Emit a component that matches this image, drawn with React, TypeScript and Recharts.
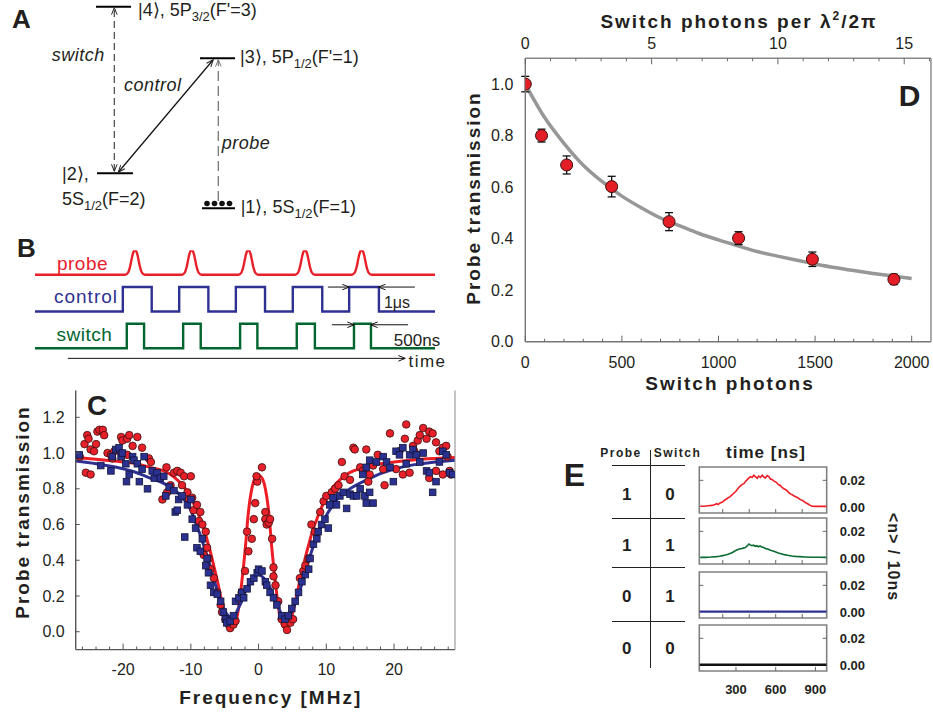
import React from 'react';
import {
  ComposedChart,
  LineChart,
  Line,
  Scatter,
  XAxis,
  YAxis,
  ReferenceLine,
  ReferenceArea,
  ErrorBar,
} from 'recharts';

const FONT = '"Liberation Sans", Arial, Helvetica, sans-serif';
const INK = '#231f20';
const RED = '#e8202a';
const BLUE = '#2e3192';
const GREEN = '#00652e';
// axes must have a size > 0 to be drawn; keep it tiny so margins stay exact
const AX = 0.01;

// ---------- panel A: level scheme (diagram units = px) ----------
const levelLines = [
  { x1: 96, x2: 131, y: 6.7 },
  { x1: 200, x2: 235, y: 58.3 },
  { x1: 97, x2: 133, y: 173.3 },
  { x1: 202, x2: 235, y: 208.3 },
];
const atomDots = [
  { x: 207, y: 203.5 },
  { x: 214.5, y: 203.5 },
  { x: 222, y: 203.5 },
  { x: 229.5, y: 203.5 },
];

// ---------- panel B: pulse sequence (time in µs) ----------
const probeCenters = [3.53, 5.53, 7.53, 9.53, 11.53];
const pulseShape = [
  [-0.35, 0], [-0.25, 0.08], [-0.17, 0.35], [-0.1, 0.75], [-0.05, 0.95], [0, 1],
  [0.05, 0.95], [0.1, 0.75], [0.17, 0.35], [0.25, 0.08], [0.35, 0],
];
const controlOn = [3.1, 5.09, 7.09, 9.1, 11.09];
const controlOff = [4.12, 6.12, 8.12, 10.14, 12.14];
const switchOn = [3.24, 5.23, 7.24, 9.24, 11.26];
const switchOff = [3.85, 5.85, 7.85, 9.88, 11.86];
const tEnd = 14.12;

// ---------- panel C: transmission spectra ----------
const cRedPoints = [
  [-26.4, 0.98], [-25.7, 1.05], [-25.3, 1.1], [-25.1, 1.08], [-24.8, 1.02], [-25.5, 0.89], [-24.8, 0.88],
  [-24.0, 1.05], [-23.8, 1.12], [-23.5, 1.13], [-23.0, 1.13], [-22.8, 1.1], [-24.3, 1.01], [-22.3, 1.0],
  [-21.8, 0.99], [-21.3, 1.01], [-20.3, 1.09], [-20.1, 1.07], [-19.4, 1.08], [-19.1, 1.1], [-18.6, 1.04],
  [-17.9, 1.09], [-17.2, 1.03], [-16.2, 0.97], [-15.9, 0.95], [-19.4, 0.99], [-21.6, 0.97], [-13.6, 0.92],
  [-12.5, 0.89], [-12.0, 0.9], [-11.5, 0.89], [-11.0, 0.87], [-10.0, 0.87], [-14.2, 0.74], [-13.5, 0.78],
  [-13.0, 0.82], [-11.3, 0.82], [-10.5, 0.78], [-10.3, 0.74], [-9.8, 0.75], [-9.6, 0.68], [-9.1, 0.71],
  [-8.6, 0.67], [-8.8, 0.62], [-8.3, 0.6], [-7.8, 0.56], [-7.6, 0.47], [-7.4, 0.41], [-8.1, 0.43],
  [-7.1, 0.35], [-6.6, 0.3], [-6.1, 0.22], [-5.6, 0.15], [-5.4, 0.11], [-4.9, 0.07], [-4.4, 0.04],
  [-4.2, 0.02], [-3.7, 0.04], [-3.4, 0.06], [-2.5, 0.22], [-2.0, 0.34], [-1.5, 0.45], [-1.0, 0.52],
  [-1.7, 0.56], [-0.7, 0.63], [-0.5, 0.72], [-0.2, 0.84], [-0.3, 0.87], [0.5, 0.92], [1.0, 0.67],
  [1.0, 0.63], [1.2, 0.6], [1.5, 0.61], [1.7, 0.63], [2.0, 0.52], [2.2, 0.36], [2.2, 0.31], [2.5, 0.26],
  [2.9, 0.17], [3.4, 0.07], [3.9, 0.04], [4.2, 0.01], [4.7, 0.05], [5.1, 0.07], [6.1, 0.3], [6.6, 0.34],
  [6.9, 0.37], [7.4, 0.41], [7.8, 0.6], [8.3, 0.56], [9.1, 0.67], [9.6, 0.73], [10.0, 0.76], [10.8, 0.78],
  [11.3, 0.8], [11.8, 0.82], [12.3, 0.95], [12.7, 0.87], [13.5, 0.85], [14.0, 1.03], [14.2, 1.02],
  [15.0, 0.92], [15.4, 0.9], [15.9, 1.02], [16.2, 0.84], [16.4, 0.88], [16.9, 0.93], [17.6, 0.99],
  [18.4, 0.91], [18.6, 0.82], [19.4, 1.11], [20.3, 0.91], [20.8, 1.01], [21.3, 0.88], [21.6, 1.08],
  [21.8, 1.16], [22.3, 0.89], [22.8, 1.04], [23.0, 1.01], [23.5, 1.07], [23.8, 1.1], [24.3, 1.14],
  [24.8, 1.08], [25.2, 1.12], [25.7, 1.11], [26.2, 1.06], [26.7, 1.01], [27.2, 1.03], [27.7, 1.04],
  [27.9, 0.98], [28.2, 0.9], [28.4, 0.88], [27.2, 0.88], [26.2, 0.9], [25.2, 0.86],
];
const cBluePoints = [
  [-26.5, 0.99], [-23.3, 0.93], [-21.8, 0.9], [-21.6, 0.98], [-21.1, 1.02], [-20.6, 1.03], [-20.3, 0.98],
  [-20.1, 1.0], [-19.6, 0.94], [-19.5, 0.84], [-19.1, 0.88], [-18.6, 0.98], [-18.4, 0.96], [-17.9, 0.94],
  [-17.6, 0.84], [-17.2, 0.91], [-16.9, 0.98], [-16.4, 0.8], [-15.7, 0.9], [-15.4, 0.86], [-15.0, 0.89],
  [-14.5, 0.86], [-14.0, 0.87], [-13.7, 0.76], [-13.2, 0.81], [-12.5, 0.79], [-12.3, 0.67], [-12.0, 0.68],
  [-11.8, 0.74], [-11.3, 0.76], [-10.9, 0.53], [-10.5, 0.71], [-10.0, 0.74], [-9.8, 0.63], [-9.3, 0.58],
  [-9.1, 0.47], [-8.6, 0.45], [-8.3, 0.52], [-7.8, 0.37], [-7.6, 0.41], [-7.4, 0.33], [-7.1, 0.26],
  [-6.6, 0.22], [-6.1, 0.21], [-5.6, 0.17], [-5.2, 0.11], [-4.9, 0.07], [-4.7, 0.05], [-4.2, 0.06],
  [-3.7, 0.09], [-3.4, 0.17], [-2.9, 0.19], [-2.5, 0.22], [-2.2, 0.19], [-1.7, 0.24], [-1.2, 0.28],
  [-0.7, 0.3], [-0.2, 0.33], [0.0, 0.35], [0.5, 0.34], [1.0, 0.28], [1.2, 0.26], [1.7, 0.22], [2.2, 0.19],
  [2.7, 0.15], [3.4, 0.09], [3.9, 0.07], [4.4, 0.09], [4.9, 0.13], [5.4, 0.17], [5.9, 0.22], [6.4, 0.28],
  [6.9, 0.32], [7.4, 0.35], [7.6, 0.41], [8.1, 0.49], [8.6, 0.52], [8.8, 0.56], [9.3, 0.6], [9.8, 0.63],
  [10.3, 0.58], [10.5, 0.71], [11.0, 0.75], [11.5, 0.71], [12.0, 0.76], [12.5, 0.78], [13.0, 0.69],
  [13.5, 0.77], [14.0, 0.76], [14.5, 0.76], [15.0, 0.8], [15.7, 0.76], [15.9, 0.72], [16.4, 0.78],
  [16.9, 0.72], [15.4, 0.88], [15.9, 0.92], [16.4, 0.96], [17.4, 0.95], [18.4, 0.98], [18.9, 0.95],
  [19.4, 0.92], [19.9, 0.84], [20.3, 1.01], [20.8, 0.99], [21.3, 1.03], [21.8, 0.94], [22.3, 0.99],
  [22.8, 1.02], [23.3, 0.99], [23.8, 0.95], [24.3, 1.0], [24.8, 0.9], [25.2, 0.89], [25.7, 0.78],
  [26.2, 0.84], [26.7, 0.95], [27.2, 1.01], [27.7, 0.99], [28.2, 0.89], [28.7, 0.88],
];
const cRedFit = [
  [-27, 0.975], [-24, 0.965], [-20, 0.95], [-18, 0.94], [-16, 0.92], [-14, 0.9], [-13, 0.88], [-12, 0.85],
  [-11, 0.81], [-10, 0.75], [-9, 0.67], [-8.5, 0.62], [-8, 0.57], [-7.5, 0.5], [-7, 0.43], [-6.5, 0.35],
  [-6, 0.27], [-5.5, 0.18], [-5, 0.1], [-4.5, 0.045], [-4, 0.02], [-3.5, 0.04], [-3, 0.12], [-2.5, 0.27],
  [-2, 0.45], [-1.5, 0.67], [-1, 0.8], [-0.5, 0.86], [0, 0.875], [0.5, 0.86], [1, 0.8], [1.5, 0.67],
  [2, 0.45], [2.5, 0.27], [3, 0.12], [3.5, 0.04], [4, 0.02], [4.5, 0.045], [5, 0.1], [5.5, 0.18],
  [6, 0.27], [6.5, 0.35], [7, 0.43], [7.5, 0.5], [8, 0.57], [8.5, 0.62], [9, 0.67], [10, 0.75],
  [11, 0.81], [12, 0.85], [13, 0.88], [14, 0.9], [16, 0.92], [18, 0.94], [20, 0.95], [24, 0.965], [29, 0.975],
];
const cBlueFit = [
  [-27, 0.955], [-24, 0.94], [-21, 0.92], [-18.4, 0.895], [-16, 0.86], [-14, 0.83], [-12, 0.78], [-11, 0.74],
  [-10, 0.68], [-9.5, 0.63], [-9, 0.58], [-8.5, 0.53], [-8, 0.47], [-7.5, 0.41], [-7, 0.35], [-6.5, 0.28],
  [-6, 0.22], [-5.5, 0.17], [-5, 0.12], [-4.5, 0.09], [-4, 0.08], [-3.5, 0.09], [-3, 0.13], [-2.5, 0.17],
  [-2, 0.22], [-1.5, 0.26], [-1, 0.29], [-0.5, 0.31], [0, 0.32], [0.5, 0.31], [1, 0.29], [1.5, 0.26],
  [2, 0.22], [2.5, 0.17], [3, 0.13], [3.5, 0.09], [4, 0.08], [4.5, 0.09], [5, 0.12], [5.5, 0.17],
  [6, 0.22], [6.5, 0.28], [7, 0.35], [7.5, 0.41], [8, 0.47], [8.5, 0.52], [9, 0.57], [9.5, 0.61],
  [10, 0.65], [11, 0.71], [12, 0.76], [13.5, 0.8], [16, 0.85], [18.4, 0.89], [21, 0.92], [24, 0.94], [29, 0.96],
];
const cXTicks = [-20, -10, 0, 10, 20];
const cXMinor = [-26, -24, -22, -20, -18, -16, -14, -12, -10, -8, -6, -4, -2, 0, 2, 4, 6, 8, 10, 12, 14, 16, 18, 20, 22, 24, 26, 28];
const cYTicks = [0, 0.2, 0.4, 0.6, 0.8, 1.0, 1.2];

// ---------- panel D: transmission vs switch photons ----------
const dPhotons = [0, 84, 214, 447, 744, 1104, 1486, 1908];
const dTrans = [1.0, 0.8, 0.686, 0.602, 0.466, 0.402, 0.32, 0.242];
const dErr = [0.03, 0.025, 0.035, 0.04, 0.035, 0.025, 0.028, 0.02];
const dFitX = [0, 100, 200, 300, 400, 500, 600, 700, 800, 900, 1000, 1100, 1200, 1300, 1400, 1500, 1600, 1700, 1800, 1900, 2000];
const dFitY = [1.0, 0.87, 0.77, 0.685, 0.62, 0.565, 0.52, 0.48, 0.45, 0.42, 0.395, 0.372, 0.35, 0.333, 0.317, 0.302, 0.288, 0.276, 0.265, 0.255, 0.245];
const dXTicks = [0, 500, 1000, 1500, 2000];
const dXMinor = [0, 100, 200, 300, 400, 500, 600, 700, 800, 900, 1000, 1100, 1200, 1300, 1400, 1500, 1600, 1700, 1800, 1900, 2000];
const dTopTicks = [0, 5, 10, 15];
const dTopMinor = [0, 1, 2, 3, 4, 5, 6, 7, 8, 9, 10, 11, 12, 13, 14, 15, 16];
const dTopSpan = [0, 16.06];
const dYTicks = [0, 0.2, 0.4, 0.6, 0.8, 1.0];

// ---------- panel E: photon traces ----------
const eRed = [
  [30, 0.0005], [60, 0.0006], [90, 0.0009], [120, 0.0012], [140, 0.0018], [155, 0.0025], [165, 0.0018],
  [180, 0.003], [195, 0.0035], [210, 0.0048], [225, 0.0058], [240, 0.0068], [255, 0.0078], [270, 0.009],
  [285, 0.0105], [300, 0.0118], [315, 0.0138], [330, 0.0155], [345, 0.0168], [360, 0.0175], [372, 0.0192],
  [385, 0.0205], [398, 0.0218], [410, 0.0228], [422, 0.0222], [435, 0.0238], [448, 0.0226], [460, 0.0215],
  [472, 0.0232], [485, 0.0222], [498, 0.0238], [510, 0.0225], [522, 0.0218], [535, 0.0236], [548, 0.0228],
  [560, 0.021], [575, 0.0205], [590, 0.0192], [605, 0.0185], [620, 0.0168], [635, 0.0162], [650, 0.0145],
  [665, 0.0135], [680, 0.0128], [695, 0.0112], [710, 0.0098], [725, 0.0092], [740, 0.0082], [755, 0.0075],
  [770, 0.0068], [785, 0.0055], [800, 0.005], [815, 0.004], [830, 0.003], [845, 0.0022], [860, 0.0012],
  [875, 0.0006], [900, 0.0005], [930, 0.0005], [960, 0.0005], [985, 0.0005],
];
const eGreen = [
  [30, 0.0005], [70, 0.0005], [110, 0.0007], [150, 0.001], [175, 0.0013], [200, 0.0018], [220, 0.0022],
  [240, 0.0028], [260, 0.0035], [280, 0.0045], [295, 0.0055], [310, 0.0062], [325, 0.0068], [340, 0.007],
  [355, 0.0074], [370, 0.0078], [385, 0.009], [398, 0.0105], [408, 0.0098], [420, 0.0092], [432, 0.0096],
  [445, 0.0088], [458, 0.0092], [470, 0.0084], [482, 0.009], [495, 0.0082], [510, 0.0078], [525, 0.007],
  [540, 0.0068], [560, 0.0058], [580, 0.0052], [600, 0.0045], [620, 0.0038], [640, 0.0032], [665, 0.0025],
  [690, 0.002], [720, 0.0015], [750, 0.0012], [780, 0.001], [820, 0.0008], [870, 0.0006], [930, 0.0005], [985, 0.0005],
];
const eBlue = [[25, 0.0003], [300, 0.0003], [600, 0.0003], [985, 0.0003]];
const eBlack = [[25, 0.0002], [300, 0.0002], [600, 0.0002], [985, 0.0002]];
const eProbeBits = [1, 1, 0, 0];
const eSwitchBits = [0, 1, 1, 0];
const eYTicks = [0, 0.02];
const eXTicksUpper = [200, 400, 600, 800];
const eXTicksLower = [300, 600, 900];

const pts = (arr: number[][]) => arr.map(([x, y]) => ({ x, y }));

// tick renderer: label outside (optional), tick mark pointing into the plot
type TickCfg = {
  side: 'bottom' | 'top' | 'left' | 'right';
  margin: number;
  labels: number[];
  major?: number[];
  majorLen?: number;
  minorLen?: number;
  fmt?: (v: number) => string;
  size?: number;
  bold?: boolean;
  stroke?: string;
  mirrorAt?: number;
};
const makeTick = (c: TickCfg) => (p: any) => {
  const v = p.payload.value as number;
  const isMajor = (c.major ?? c.labels).some((m) => Math.abs(m - v) < 1e-9);
  const len = isMajor ? c.majorLen ?? 5 : c.minorLen ?? 3;
  const label = c.labels.some((m) => Math.abs(m - v) < 1e-9);
  const txt = c.fmt ? c.fmt(v) : String(v);
  const st = { stroke: c.stroke ?? '#555', strokeWidth: 1 };
  const font = { fontSize: c.size ?? 16, fontWeight: c.bold ? 700 : 400, fill: INK, fontFamily: FONT };
  if (c.side === 'bottom') {
    const ay = p.y - c.margin;
    return (
      <g>
        {len > 0 && <line x1={p.x} x2={p.x} y1={ay} y2={ay - len} {...st} />}
        {label && <text x={p.x} y={p.y} dy="0.71em" textAnchor="middle" {...font}>{txt}</text>}
      </g>
    );
  }
  if (c.side === 'top') {
    const ay = p.y + c.margin;
    return (
      <g>
        {len > 0 && <line x1={p.x} x2={p.x} y1={ay} y2={ay + len} {...st} />}
        {label && <text x={p.x} y={p.y} textAnchor="middle" {...font}>{txt}</text>}
      </g>
    );
  }
  if (c.side === 'left') {
    const ax = p.x + c.margin;
    return (
      <g>
        {len > 0 && <line x1={ax} x2={ax + len} y1={p.y} y2={p.y} {...st} />}
        {label && <text x={p.x} y={p.y} dy="0.355em" textAnchor="end" {...font}>{txt}</text>}
      </g>
    );
  }
  const ax = p.x - c.margin;
  return (
    <g>
      {len > 0 && <line x1={ax} x2={ax - len} y1={p.y} y2={p.y} {...st} />}
      {len > 0 && c.mirrorAt !== undefined && (
        <line x1={ax - c.mirrorAt} x2={ax - c.mirrorAt + len} y1={p.y} y2={p.y} {...st} />
      )}
      {label && <text x={p.x} y={p.y} dy="0.355em" textAnchor="start" {...font}>{txt}</text>}
    </g>
  );
};

type TProps = {
  x: number; y: number; size: number; color?: string; bold?: boolean; italic?: boolean;
  middle?: boolean; spacing?: number; rotate?: number; children: React.ReactNode;
};
const T = ({ x, y, size, color = INK, bold, italic, middle, spacing = 0, rotate = 0, children }: TProps) => (
  <div
    style={{
      position: 'absolute', left: x, top: y, fontSize: size, lineHeight: 1, color,
      fontWeight: bold ? 700 : 400, fontStyle: italic ? 'italic' : 'normal', letterSpacing: spacing,
      whiteSpace: 'nowrap',
      transform: `translate(${middle ? '-50%' : '0'}, -50%)${rotate ? ` rotate(${rotate}deg)` : ''}`,
    }}
  >
    {children}
  </div>
);
const Sub = ({ children }: { children: React.ReactNode }) => (
  <span style={{ fontSize: 13, verticalAlign: -5 }}>{children}</span>
);

const Arrow = ({ id, color = INK }: { id: string; color?: string }) => (
  <defs>
    <marker id={id} viewBox="0 0 10 10" refX="9.5" refY="5" markerWidth="9" markerHeight="7"
      markerUnits="userSpaceOnUse" orient="auto-start-reverse">
      <path d="M0,1 L10,5 L0,9" fill="none" stroke={color} strokeWidth={1.4} />
    </marker>
  </defs>
);

const PanelA = () => (
  <div style={{ position: 'absolute', left: 0, top: 0 }}>
    <ComposedChart width={470} height={230} margin={{ top: 0, right: 0, bottom: 0, left: 0 }}>
      <Arrow id="arrA" />
      <Arrow id="arrAp" color="#777" />
      <XAxis type="number" dataKey="x" domain={[0, 470]} hide allowDataOverflow />
      <YAxis type="number" dataKey="y" domain={[0, 230]} reversed hide allowDataOverflow />
      {levelLines.map((l, i) => (
        <ReferenceLine key={i} segment={[{ x: l.x1, y: l.y }, { x: l.x2, y: l.y }]} stroke="#000" strokeWidth={2} />
      ))}
      <ReferenceLine segment={[{ x: 114.3, y: 171 }, { x: 114.3, y: 8 }]} stroke="#444" strokeWidth={1.2}
        strokeDasharray="7 4" markerStart="url(#arrA)" markerEnd="url(#arrA)" />
      <ReferenceLine segment={[{ x: 118.5, y: 172 }, { x: 213, y: 60 }]} stroke="#111" strokeWidth={1.2}
        markerStart="url(#arrA)" markerEnd="url(#arrA)" />
      <ReferenceLine segment={[{ x: 218.3, y: 201 }, { x: 218.3, y: 60 }]} stroke="#777" strokeWidth={1.3}
        strokeDasharray="10 5" markerEnd="url(#arrAp)" />
      <Scatter data={atomDots} isAnimationActive={false}
        shape={(p: any) => <circle cx={p.cx} cy={p.cy} r={2.8} fill="#111" />} />
    </ComposedChart>
  </div>
);

const probeData = [
  { t: 0, v: 0 },
  ...probeCenters.flatMap((c) => pulseShape.map(([d, h]) => ({ t: c + d, v: h }))),
  { t: tEnd, v: 0 },
];
const squareData = (on: number[], off: number[]) => [
  { t: 0, v: 0 },
  ...on.flatMap((t, i) => [{ t, v: 1 }, { t: off[i], v: 0 }]),
  { t: tEnd, v: 0 },
];

const PanelB = () => (
  <div style={{ position: 'absolute', left: 0, top: 230 }}>
    <LineChart width={470} height={150} margin={{ top: 20.3, right: 35, bottom: 17, left: 35 }}>
      <Arrow id="arrB" color="#111" />
      <XAxis type="number" dataKey="t" domain={[0, tEnd]} hide allowDataOverflow />
      <YAxis yAxisId="p" type="number" domain={[-3.6, 1]} hide allowDataOverflow />
      <YAxis yAxisId="c" type="number" domain={[-2.1, 2.5]} hide allowDataOverflow />
      <YAxis yAxisId="s" type="number" domain={[-0.6, 4]} hide allowDataOverflow />
      <Line yAxisId="p" data={probeData} dataKey="v" type="monotone" stroke={RED} strokeWidth={2.4} dot={false} isAnimationActive={false} />
      <Line yAxisId="c" data={squareData(controlOn, controlOff)} dataKey="v" type="stepAfter" stroke={BLUE} strokeWidth={2.4} dot={false} isAnimationActive={false} />
      <Line yAxisId="s" data={squareData(switchOn, switchOff)} dataKey="v" type="stepAfter" stroke={GREEN} strokeWidth={2.4} dot={false} isAnimationActive={false} />
      <ReferenceLine yAxisId="c" segment={[{ x: 10.34, y: 1 }, { x: 11.08, y: 1 }]} stroke="#111" strokeWidth={1} markerEnd="url(#arrB)" />
      <ReferenceLine yAxisId="c" segment={[{ x: 13.41, y: 1 }, { x: 12.14, y: 1 }]} stroke="#111" strokeWidth={1} markerEnd="url(#arrB)" />
      <ReferenceLine yAxisId="s" segment={[{ x: 10.48, y: 0.96 }, { x: 11.26, y: 0.96 }]} stroke="#111" strokeWidth={1} markerEnd="url(#arrB)" />
      <ReferenceLine yAxisId="s" segment={[{ x: 13.17, y: 0.96 }, { x: 11.86, y: 0.96 }]} stroke="#111" strokeWidth={1} markerEnd="url(#arrB)" />
      <ReferenceLine yAxisId="s" segment={[{ x: 1.16, y: -0.41 }, { x: 13.06, y: -0.41 }]} stroke="#111" strokeWidth={1} markerEnd="url(#arrB)" />
    </LineChart>
  </div>
);

const PanelC = () => (
  <div style={{ position: 'absolute', left: 0, top: 380 }}>
    <ComposedChart width={470} height={333} margin={{ top: 10.5, right: 15, bottom: 63.4, left: 75.7 }}>
      <XAxis xAxisId="m" type="number" dataKey="x" domain={[-27, 29]} ticks={cXMinor} interval={0} height={AX}
        tickLine={false} tickSize={0} tickMargin={14} axisLine={{ stroke: '#555', strokeWidth: 1.4 }}
        tick={makeTick({ side: 'bottom', margin: 14, labels: cXTicks, majorLen: 6, minorLen: 3 })} allowDataOverflow />
      <YAxis yAxisId="r" orientation="right" type="number" domain={[-0.1, 1.35]} width={AX}
        tick={false} tickLine={false} axisLine={{ stroke: '#888', strokeWidth: 1 }} allowDataOverflow />
      <YAxis yAxisId="m" type="number" dataKey="y" domain={[-0.1, 1.35]} ticks={cYTicks} interval={0} width={AX}
        tickLine={false} tickSize={0} tickMargin={11} axisLine={{ stroke: '#555', strokeWidth: 1.4 }}
        tick={makeTick({ side: 'left', margin: 11, labels: cYTicks, majorLen: 4, fmt: (v) => v.toFixed(1) })} allowDataOverflow />
      <Scatter xAxisId="m" yAxisId="m" data={pts(cRedPoints)} isAnimationActive={false}
        shape={(p: any) => <circle cx={p.cx} cy={p.cy} r={3.8} fill={RED} stroke="#3a1010" strokeWidth={0.8} />} />
      <Scatter xAxisId="m" yAxisId="m" data={pts(cBluePoints)} isAnimationActive={false}
        shape={(p: any) => <rect x={p.cx - 3.3} y={p.cy - 3.3} width={6.6} height={6.6} fill="#2b3190" stroke="#14163a" strokeWidth={0.8} />} />
      <Line xAxisId="m" yAxisId="m" data={pts(cRedFit)} dataKey="y" type="monotone" stroke="#ee1d25" strokeWidth={3}
        dot={false} isAnimationActive={false} />
      <Line xAxisId="m" yAxisId="m" data={pts(cBlueFit)} dataKey="y" type="monotone" stroke="#2e3192" strokeWidth={3}
        dot={false} isAnimationActive={false} />
    </ComposedChart>
  </div>
);

const dPoints = dPhotons.map((x, i) => ({ x, y: dTrans[i], err: dErr[i] }));
const dFit = dFitX.map((x, i) => ({ x, y: dFitY[i] }));

const PanelD = () => (
  <div style={{ position: 'absolute', left: 460, top: 0 }}>
    <ComposedChart width={473} height={400} margin={{ top: 58.3, right: 2, bottom: 58.3, left: 65.3 }}>
      <XAxis xAxisId="t" orientation="top" type="number" dataKey="x" domain={[0, 16.06]} ticks={dTopMinor} interval={0} height={AX}
        tickLine={false} tickSize={0} tickMargin={9} axisLine={{ stroke: '#888', strokeWidth: 1.4 }}
        tick={makeTick({ side: 'top', margin: 9, labels: dTopTicks, majorLen: 6, minorLen: 3, stroke: '#666' })} allowDataOverflow />
      <XAxis xAxisId="b" type="number" dataKey="x" domain={[0, 2100]} ticks={dXMinor} interval={0} height={AX}
        tickLine={false} tickSize={0} tickMargin={15} axisLine={{ stroke: '#777', strokeWidth: 1.4 }}
        tick={makeTick({ side: 'bottom', margin: 15, labels: dXTicks, majorLen: 6, minorLen: 3, stroke: '#666' })} allowDataOverflow />
      <YAxis yAxisId="r" orientation="right" type="number" domain={[0, 1.1]} width={AX}
        tick={false} tickLine={false} axisLine={{ stroke: '#888', strokeWidth: 1.4 }} allowDataOverflow />
      <YAxis yAxisId="l" type="number" dataKey="y" domain={[0, 1.1]} ticks={dYTicks} interval={0} width={AX}
        tickLine={false} tickSize={0} tickMargin={12} axisLine={{ stroke: '#777', strokeWidth: 1.4 }}
        tick={makeTick({ side: 'left', margin: 12, labels: dYTicks, majorLen: 0, fmt: (v) => v.toFixed(1) })} allowDataOverflow />
      {/* invisible carrier so the top (λ²/2π) axis gets its scale */}
      <Line xAxisId="t" yAxisId="l" data={dTopSpan.map((x) => ({ x, y: 0 }))} dataKey="y" stroke="none"
        dot={false} activeDot={false} isAnimationActive={false} />
      <Line xAxisId="b" yAxisId="l" data={dFit} dataKey="y" type="monotone" stroke="#979797" strokeWidth={3.5}
        dot={false} isAnimationActive={false} />
      <Scatter xAxisId="b" yAxisId="l" data={dPoints} dataKey="y" isAnimationActive={false}
        shape={(p: any) => <circle cx={p.cx} cy={p.cy} r={6} fill="#e41e26" stroke="#3d0d0d" strokeWidth={1} />}>
        <ErrorBar dataKey="err" direction="y" width={4} stroke="#111" strokeWidth={1.3} />
      </Scatter>
    </ComposedChart>
  </div>
);

const E_PLOT_W = 127.4;

const ETrace = ({ data, color, top, width, last }: { data: number[][]; color: string; top: number; width: number; last?: boolean }) => (
  <div style={{ position: 'absolute', left: 690, top: top - 6 }}>
    <LineChart width={243} height={6 + 46 + (last ? 34 : 6)} margin={{ top: 6, right: 106.3, bottom: last ? 34 : 6, left: 9.3 }}>
      <XAxis xAxisId="m" type="number" dataKey="x" domain={[23, 985]} ticks={last ? eXTicksLower : eXTicksUpper} interval={0} height={AX}
        tickLine={false} tickSize={0} tickMargin={14} axisLine={false}
        tick={makeTick({ side: 'bottom', margin: 14, labels: last ? eXTicksLower : [], major: last ? eXTicksLower : eXTicksUpper,
          majorLen: 4, size: 13, bold: true, stroke: '#666' })} allowDataOverflow />
      <YAxis yAxisId="m" orientation="right" type="number" dataKey="y" domain={[-0.0045, 0.03]} ticks={eYTicks} interval={0} width={AX}
        tickLine={false} tickSize={0} tickMargin={13} axisLine={false}
        tick={makeTick({ side: 'right', margin: 13, labels: eYTicks, major: [0.02], majorLen: 4, minorLen: 0, size: 13, bold: true,
          stroke: '#666', mirrorAt: E_PLOT_W, fmt: (v) => v.toFixed(2) })} allowDataOverflow />
      <ReferenceArea xAxisId="m" yAxisId="m" x1={23} x2={985} y1={-0.0045} y2={0.03} fill="none" fillOpacity={0}
        stroke="#808080" strokeWidth={1.6} />
      <Line xAxisId="m" yAxisId="m" data={pts(data)} dataKey="y" type="linear" stroke={color} strokeWidth={width}
        dot={false} isAnimationActive={false} />
    </LineChart>
  </div>
);

const eTops = [466.7, 518.3, 571.7, 624.5];
const eRowY = [494.3, 545, 595.7, 648.3];
const eRuleY = [465, 517.7, 567.3, 621];

export default function App() {
  return (
    <div style={{ position: 'absolute', left: 0, top: 0, width: 933, height: 713, background: '#fff', fontFamily: FONT, color: INK, overflow: 'hidden' }}>
      <PanelA />
      <PanelB />
      <PanelC />
      <PanelD />
      <ETrace data={eRed} color="#ee1d25" top={eTops[0]} width={1.6} />
      <ETrace data={eGreen} color="#0b6b32" top={eTops[1]} width={1.6} />
      <ETrace data={eBlue} color="#2e3192" top={eTops[2]} width={2.4} />
      <ETrace data={eBlack} color="#111" top={eTops[3]} width={2.4} last />

      {/* panel A labels */}
      <T x={21.5} y={19} size={26} bold middle>A</T>
      <T x={138} y={12} size={18}>|4⟩, 5P<Sub>3/2</Sub>(F'=3)</T>
      <T x={240} y={59} size={18}>|3⟩, 5P<Sub>1/2</Sub>(F'=1)</T>
      <T x={62} y={174} size={18}>|2⟩,</T>
      <T x={62} y={201} size={18}>5S<Sub>1/2</Sub>(F=2)</T>
      <T x={240.7} y={209} size={18}>|1⟩, 5S<Sub>1/2</Sub>(F=1)</T>
      <T x={51.7} y={55} size={18} italic spacing={0.5}>switch</T>
      <T x={124} y={85} size={18} italic spacing={0.5}>control</T>
      <T x={221.7} y={143} size={18} italic spacing={0.5}>probe</T>

      {/* panel B labels */}
      <T x={26.5} y={248} size={26} bold middle>B</T>
      <T x={82.5} y={263} size={19} color={RED} middle spacing={0.5}>probe</T>
      <T x={86} y={296} size={19} color={BLUE} middle spacing={1}>control</T>
      <T x={84.5} y={334} size={19} color={GREEN} middle spacing={0.5}>switch</T>
      <T x={397} y={303} size={16} middle>1μs</T>
      <T x={417} y={340} size={17} middle>500ns</T>
      <T x={427.5} y={361} size={17} middle spacing={1.5}>time</T>

      {/* panel C labels */}
      <T x={97} y={406} size={28} bold middle>C</T>
      <T x={21.7} y={512} size={19} bold middle spacing={2} rotate={-90}>Probe transmission</T>
      <T x={270.7} y={697} size={19} bold middle spacing={2}>Frequency [MHz]</T>

      {/* panel D labels */}
      <T x={739} y={20} size={19} bold middle spacing={2}>
        Switch photons per λ<span style={{ fontSize: 12, verticalAlign: 8 }}>2</span>/2π
      </T>
      <T x={730} y={383} size={19} bold middle spacing={2}>Switch photons</T>
      <T x={473.3} y={198} size={19} bold middle spacing={2} rotate={-90}>Probe transmission</T>
      <T x={909.5} y={96} size={30} bold middle>D</T>

      {/* panel E labels and table */}
      <T x={574.5} y={474.5} size={32} bold middle>E</T>
      <T x={621} y={453} size={12} bold middle spacing={1.5}>Probe</T>
      <T x={677.5} y={453} size={12} bold middle spacing={1.5}>Switch</T>
      <T x={766} y={452} size={17} bold middle spacing={1}>time [ns]</T>
      <T x={893} y={557} size={16} bold middle spacing={1} rotate={90}>&lt;n&gt; / 10ns</T>
      <div style={{ position: 'absolute', left: 649.5, top: 450, width: 0, height: 218, borderLeft: '1.5px solid #222' }} />
      {eRuleY.map((y) => (
        <div key={y} style={{ position: 'absolute', left: 611.7, top: y, width: 73.3, height: 0, borderTop: '1.5px solid #222' }} />
      ))}
      {eRowY.map((y, i) => (
        <React.Fragment key={y}>
          <T x={626.7} y={y} size={17} bold middle>{eProbeBits[i]}</T>
          <T x={670} y={y} size={17} bold middle>{eSwitchBits[i]}</T>
        </React.Fragment>
      ))}
    </div>
  );
}
